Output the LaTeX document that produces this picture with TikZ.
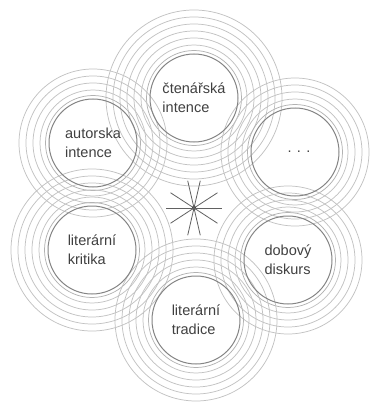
\documentclass[tikz,border=0pt]{standalone}
\usepackage{fontspec}
\setmainfont{Liberation Sans}
\begin{document}
\begin{tikzpicture}[x=0.75pt,y=-0.75pt,
  ring/.style={draw=black!24, line width=0.55pt},
  nearring/.style={draw=black!30, line width=0.55pt},
  innerc/.style={circle, draw=black!48, line width=0.75pt, minimum size=66pt, inner sep=0pt,
     align=left, text=black!75, font=\fontsize{10.9}{14.3}\selectfont},
  spoke/.style={draw=black!62, line width=0.6pt}]
\fill[white] (0,0) rectangle (379,410);
\useasboundingbox (0,0) rectangle (379,410);
% rings
\foreach \cx/\cy/\rmax in {194/98/94, 93/143/80, 295/152/80, 92/250/87, 288/260/80, 196/320/87}{
  \draw[nearring] (\cx,\cy) circle[radius=47.5*0.75pt];
  \foreach \r in {53,60,...,\rmax}{
    \draw[ring] (\cx,\cy) circle[radius=\r*0.75pt];
  }
}
% inner circles with texts
\node[innerc] (ct) at (194,98) {čtenářská\\intence};
\node[innerc] (au) at (93,143) {autorska\\intence};
\node[innerc] (dd) at (295,152) {\hspace*{6pt}. . .};
\node[innerc] (lk) at (92,250) {literární\\kritika};
\node[innerc] (db) at (288,260) {dobový\\diskurs};
\node[innerc] (lt) at (196,320) {literární\\tradice};
% star
\node[circle, fill=black, inner sep=0pt, minimum size=3pt] (c) at (194,208) {};
\foreach \a in {0,33,77,103,147,180,213,257,283,327}{
  \draw[spoke] (c.center) -- ++(\a:21pt);
}
\end{tikzpicture}
\end{document}
